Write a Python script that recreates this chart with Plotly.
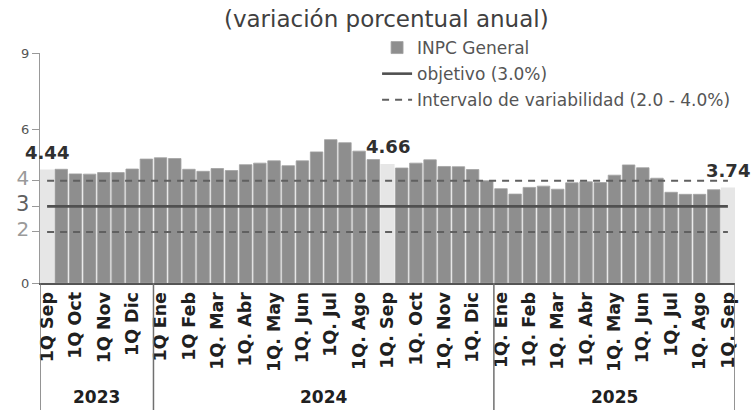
import plotly.graph_objects as go

# ---------------- data ----------------
# Annual % change of INPC, by fortnight (1Q / 2Q), Sep-2023 1Q ... Sep-2025 1Q
VALORES_2023 = [4.44, 4.45, 4.27, 4.26, 4.32, 4.32, 4.46, 4.85]
VALORES_2024 = [4.90, 4.87, 4.45, 4.37, 4.48, 4.40, 4.63, 4.69, 4.78, 4.59, 4.78, 5.13,
                5.61, 5.49, 5.16, 4.83, 4.66, 4.50, 4.69, 4.82, 4.56, 4.55, 4.44, 4.00]
VALORES_2025 = [3.69, 3.48, 3.74, 3.79, 3.67, 3.92, 3.96, 3.93, 4.22, 4.62, 4.51, 4.10,
                3.55, 3.47, 3.47, 3.65, 3.74]

ETIQUETAS_2023 = ["1Q Sep", "1Q Oct", "1Q Nov", "1Q Dic"]
ETIQUETAS_2024 = ["1Q Ene", "1Q Feb", "1Q. Mar", "1Q. Abr", "1Q. May", "1Q. Jun",
                  "1Q. Jul", "1Q. Ago", "1Q. Sep", "1Q. Oct", "1Q. Nov", "1Q. Dic"]
ETIQUETAS_2025 = ["1Q. Ene", "1Q. Feb", "1Q. Mar", "1Q. Abr", "1Q. May", "1Q. Jun",
                  "1Q. Jul", "1Q. Ago", "1Q. Sep"]

ANIOS = ["2023", "2024", "2025"]
DESTACADOS = [0, 24, 48]          # fortnights highlighted (1Q Sep of each year)
OBJETIVO = 3.0
INTERVALO = [2.0, 4.0]
Y_TICKS = [0, 2, 3, 4, 6, 9]

TITULO = "(variación porcentual anual)"
LEG_INPC = "INPC General"
LEG_OBJ = "objetivo (3.0%)"
LEG_INT = "Intervalo de variabilidad (2.0 - 4.0%)"

# ---------------- build ----------------
valores = VALORES_2023 + VALORES_2024 + VALORES_2025
n = len(valores)
xs = list(range(n))
etiquetas = ETIQUETAS_2023 + ETIQUETAS_2024 + ETIQUETAS_2025
tick_pos = xs[::2]
grupos = [len(VALORES_2023), len(VALORES_2024), len(VALORES_2025)]

FONT = "DejaVu Sans"

oscuro = [None if i in DESTACADOS else v for i, v in enumerate(valores)]
claro = [v if i in DESTACADOS else None for i, v in enumerate(valores)]

fig = go.Figure()
fig.add_trace(go.Bar(x=xs, y=claro, width=1.0, marker=dict(color="#e6e6e6", line_width=0),
                     showlegend=False, hoverinfo="skip"))
fig.add_trace(go.Bar(x=xs, y=oscuro, width=0.88, name=LEG_INPC, legendgroup="a",
                     marker=dict(color="#8e8e8e", line=dict(color="#a2a2a2", width=0.8))))
fig.add_trace(go.Scatter(x=xs, y=[OBJETIVO] * n, mode="lines", name=LEG_OBJ, legendgroup="b",
                         line=dict(color="#505050", width=2.6)))
for k, lim in enumerate(INTERVALO):
    fig.add_trace(go.Scatter(x=xs, y=[lim] * n, mode="lines", name=LEG_INT, legendgroup="c",
                             showlegend=(k == 0),
                             line=dict(color="#606060", width=2, dash="7px,6px")))

# data labels on highlighted bars
for i in DESTACADOS:
    fig.add_annotation(x=i, y=valores[i], text=f"<b>{valores[i]:.2f}</b>", showarrow=False,
                       yanchor="middle", yshift=17,
                       font=dict(family=FONT, size=18, color="#303030"))

# year group boxes below axis
bordes = [-0.5]
for g in grupos:
    bordes.append(bordes[-1] + g)
for b in bordes:
    fig.add_shape(type="line", xref="x", yref="paper", x0=b, x1=b, y0=0, y1=-0.56,
                  line=dict(color="#707070", width=1.5))
for a, lo, hi in zip(ANIOS, bordes[:-1], bordes[1:]):
    fig.add_annotation(x=(lo + hi) / 2, y=-0.496, xref="x", yref="paper", text=f"<b>{a}</b>",
                       showarrow=False, yanchor="middle", xanchor="center",
                       font=dict(family=FONT, size=17, color="#202020"))

# y tick labels of mixed sizes as in the reference
estilo = {0: (13, "#555"), 2: (20, "#9a9a9a"), 3: (21, "#606060"), 4: (20, "#9a9a9a"),
          6: (13, "#555"), 9: (13, "#555")}
ytext = [f"<span style='font-size:{estilo[t][0]}px;color:{estilo[t][1]}'>{t}</span>" for t in Y_TICKS]

fig.update_layout(
    width=753, height=410,
    margin=dict(l=40, r=18, t=53, b=127),
    paper_bgcolor="white", plot_bgcolor="white",
    barmode="overlay",
    title=dict(text=TITULO, x=0.513, xanchor="center", y=0.955, yanchor="middle",
               font=dict(family=FONT, size=23, color="#404040")),
    legend=dict(x=0.485, xanchor="left", y=1.10, yanchor="top", tracegroupgap=1,
                font=dict(family=FONT, size=17, color="#555"), bgcolor="rgba(0,0,0,0)",
                itemwidth=30),
    font=dict(family=FONT),
)
fig.update_xaxes(range=[-0.5, n - 0.5], tickvals=tick_pos, ticktext=[f"<b>{t}</b>" for t in etiquetas],
                 tickangle=-90, tickfont=dict(family=FONT, size=17.5, color="#202020"),
                 showline=True, linecolor="#555", linewidth=2, ticks="", showgrid=False,
                 zeroline=False, fixedrange=True, automargin=False)
fig.update_yaxes(range=[0, 9], tickvals=Y_TICKS, ticktext=ytext, showgrid=False, zeroline=False,
                 showline=True, linecolor="#999", linewidth=1.2, ticks="outside", ticklen=7,
                 tickcolor="#999", tickfont=dict(family=FONT, size=13, color="#555"),
                 automargin=False, fixedrange=True)

fig.write_html("out.html", config={"displayModeBar": False},
               post_script="document.body.style.margin='0';")
